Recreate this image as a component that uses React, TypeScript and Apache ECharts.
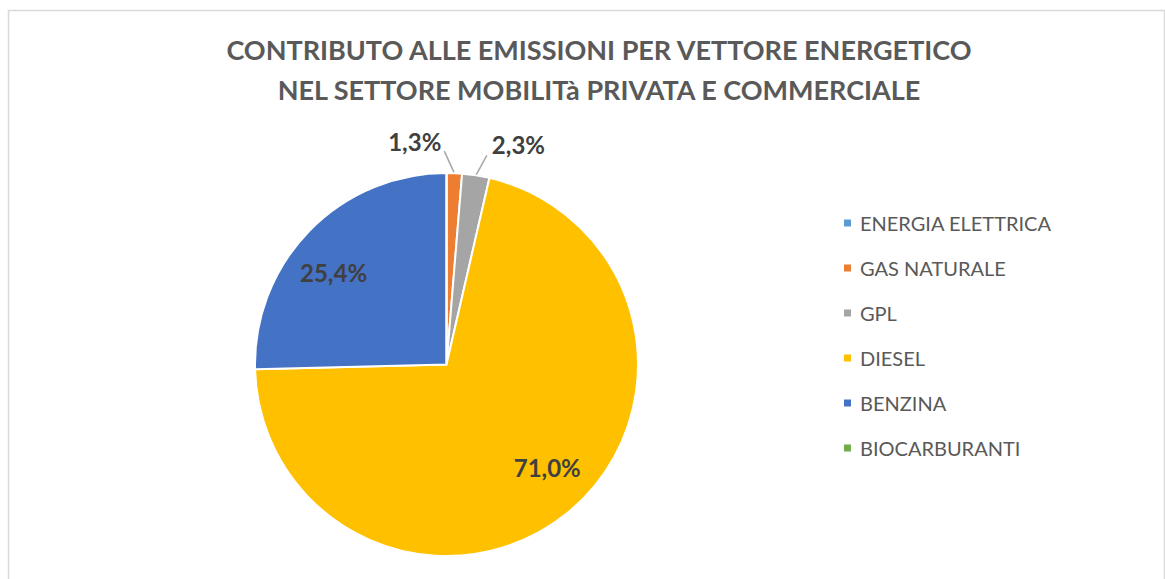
import React, { useEffect, useRef } from "react";
import * as echarts from "echarts";

const titleLines = [
  "CONTRIBUTO ALLE EMISSIONI PER VETTORE ENERGETICO",
  "NEL SETTORE MOBILITà PRIVATA E COMMERCIALE",
];
const categories = ["ENERGIA ELETTRICA", "GAS NATURALE", "GPL", "DIESEL", "BENZINA", "BIOCARBURANTI"];
const values = [0, 1.3, 2.3, 71.0, 25.4, 0];
const colors = ["#5B9BD5", "#ED7D31", "#A5A5A5", "#FFC000", "#4472C4", "#70AD47"];
const insideLabelThreshold = 10;

const fmt = (v: number) => v.toFixed(1).replace(".", ",") + "%";

export default function App() {
  const ref = useRef<HTMLDivElement>(null);
  useEffect(() => {
    if (!ref.current) return;
    const chart = echarts.init(ref.current, null, { renderer: "svg" });
    const font = "Lato, 'Noto Sans', sans-serif";
    const outerData = categories.map((name, i) => ({
      name,
      value: values[i],
      itemStyle: { color: colors[i] },
      label: { show: values[i] > 0 && values[i] < insideLabelThreshold },
      labelLine: { show: values[i] > 0 && values[i] < insideLabelThreshold },
    }));
    const innerLabelData = categories.map((name, i) => ({
      name,
      value: values[i],
      label: { show: values[i] >= insideLabelThreshold },
    }));
    chart.setOption({
      animation: false,
      backgroundColor: "#ffffff",
      title: {
        text: titleLines.join("\n"),
        left: 594,
        top: 24,
        textAlign: "center",
        textStyle: {
          fontFamily: font,
          fontWeight: "bold",
          fontSize: 27,
          lineHeight: 40,
          color: "#595959",
        },
      },
      legend: {
        orient: "vertical",
        left: 837,
        top: 208,
        itemWidth: 9,
        itemHeight: 9,
        itemGap: 25,
        icon: "rect",
        data: categories,
        textStyle: { fontFamily: font, fontSize: 20, lineHeight: 20, color: "#595959", padding: [0, 0, 0, 3] },
      },
      graphic: [
        {
          type: "rect",
          shape: { x: 8.5, y: 10.5, width: 1156, height: 700 },
          style: { fill: "none", stroke: "#d9d9d9", lineWidth: 1.5 },
          silent: true,
        },
      ],
      series: [
        {
          type: "pie",
          center: [446.5, 364.5],
          radius: 191.5,
          startAngle: 90,
          clockwise: true,
          minAngle: 0,
          avoidLabelOverlap: false,
          itemStyle: { borderColor: "#ffffff", borderWidth: 2 },
          label: {
            position: "outside",
            formatter: (p: any) => fmt(p.value),
            fontFamily: font,
            fontWeight: "bold",
            fontSize: 24,
            color: "#404040",
          },
          labelLine: { length: 18, length2: 0, lineStyle: { color: "#a6a6a6", width: 1.5 } },
          labelLayout: (p: any) => {
            const r = p.labelRect;
            const pts = p.labelLinePoints;
            if (!pts || !r) return {};
            const a = pts[0];
            if (p.dataIndex === 1) {
              const end = [a[0] - 10, a[1] - 22];
              const nx = end[0] - 3 - r.width;
              const ny = end[1] + 2 - r.height;
              return { dx: nx - r.x, dy: ny - r.y, labelLinePoints: [a, end] };
            }
            if (p.dataIndex === 2) {
              const end = [a[0] + 11, a[1] - 20];
              const nx = end[0] + 5;
              const ny = end[1] + 1 - r.height;
              return { dx: nx - r.x, dy: ny - r.y, labelLinePoints: [a, end] };
            }
            return {};
          },
          emphasis: { disabled: true },
          data: outerData,
        },
        {
          type: "pie",
          center: [446.5, 364.5],
          radius: [95.75, 191.5],
          startAngle: 90,
          clockwise: true,
          silent: true,
          itemStyle: { color: "rgba(0,0,0,0)", borderWidth: 0 },
          label: {
            position: "inside",
            formatter: (p: any) => fmt(p.value),
            fontFamily: font,
            fontWeight: "bold",
            fontSize: 24,
            color: "#404040",
          },
          labelLine: { show: false },
          labelLayout: (p: any) => {
            if (p.dataIndex === 4) return { dx: -8, dy: 10 };
            if (p.dataIndex === 3) return { dx: 8, dy: -11 };
            return {};
          },
          emphasis: { disabled: true },
          data: innerLabelData,
        },
      ],
    });
    return () => chart.dispose();
  }, []);
  return <div ref={ref} style={{ position: "fixed", left: 0, top: 0, width: 1165, height: 579 }} />;
}
